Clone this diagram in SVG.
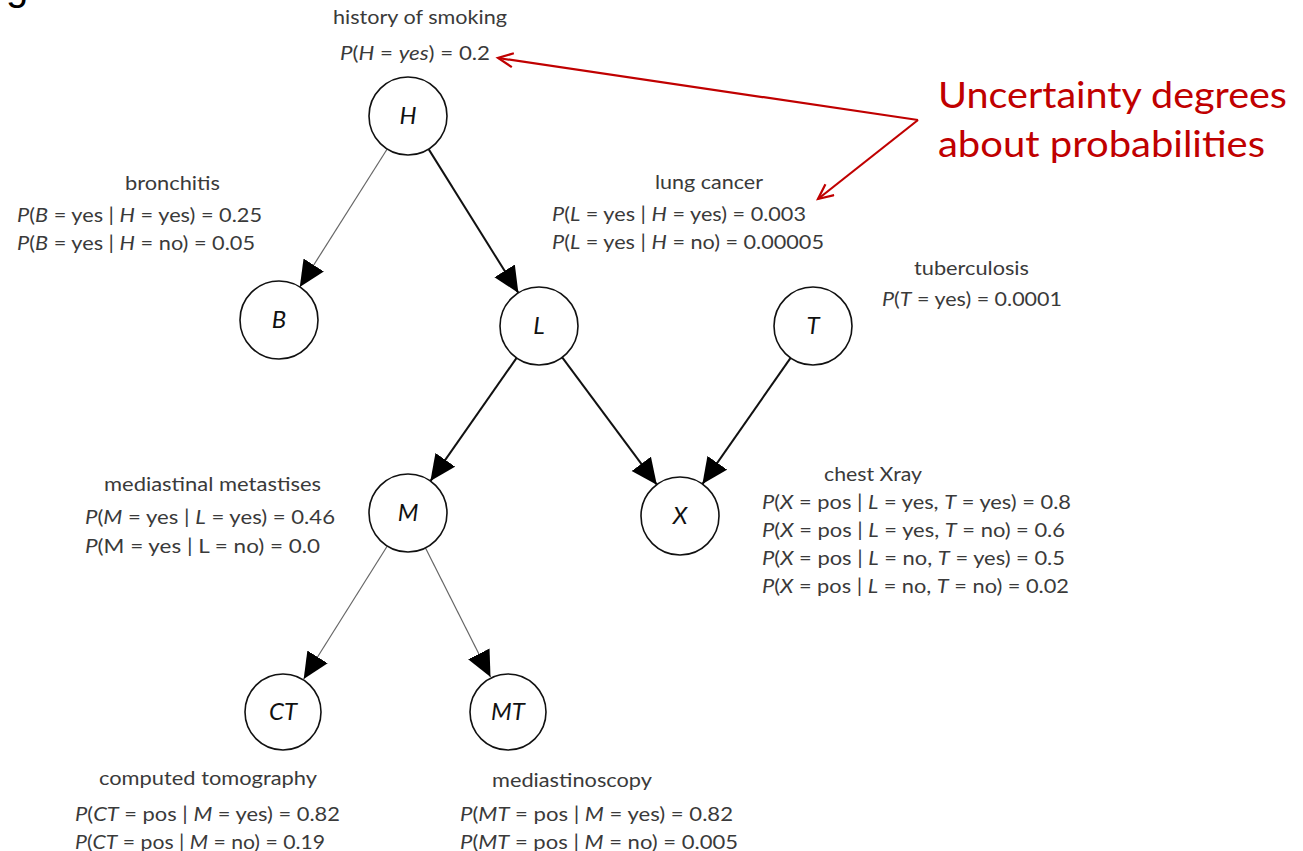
<svg xmlns="http://www.w3.org/2000/svg" width="1303" height="851" viewBox="0 0 1303 851">
<defs>
<style>
.lbl{font-family:Lato,"Liberation Sans",sans-serif;font-size:18.5px;fill:#3a3a3a}
.i{font-style:italic}
.node circle{fill:#fff;stroke:#111;stroke-width:1.6}
.node text{font-family:Lato,"Liberation Sans",sans-serif;font-size:24px;font-style:italic;fill:#111;text-anchor:middle}
.thin{stroke:#666;stroke-width:1.2;fill:none}
.thick{stroke:#111;stroke-width:2;fill:none}
.red{stroke:#c00000;stroke-width:2.2;fill:none}
.note{font-family:Lato,"Liberation Sans",sans-serif;font-size:37px;fill:#c00000}
</style>
<marker id="tri" markerUnits="userSpaceOnUse" markerWidth="27" markerHeight="25" refX="26" refY="12" orient="auto" viewBox="0 0 27 25">
<path d="M0,0 L26,12 L0,24 z" fill="#000"/>
</marker>
<marker id="open" markerUnits="userSpaceOnUse" markerWidth="20" markerHeight="20" refX="16" refY="8" orient="auto" viewBox="0 0 20 20">
<path d="M1,1 L16,8 L1,15" fill="none" stroke="#c00000" stroke-width="2.2"/>
</marker>
</defs>
<rect width="1303" height="851" fill="#fff"/>
<text x="6" y="0" style="font-family:'Liberation Sans',sans-serif;font-size:40px;fill:#000">g</text>

<g id="connectors">
<line class="thin" x1="387.2" y1="149" x2="299.8" y2="287" marker-end="url(#tri)"/>
<line class="thick" x1="428.6" y1="149.1" x2="518.4" y2="292.9" marker-end="url(#tri)"/>
<line class="thick" x1="516.6" y1="357.9" x2="430.4" y2="481.1" marker-end="url(#tri)"/>
<line class="thick" x1="562.2" y1="357.3" x2="656.8" y2="484.7" marker-end="url(#tri)"/>
<line class="thick" x1="790.6" y1="357.9" x2="702.4" y2="484.1" marker-end="url(#tri)"/>
<line class="thin" x1="387.3" y1="546" x2="303.7" y2="679" marker-end="url(#tri)"/>
<line class="thin" x1="425.5" y1="547.9" x2="490.5" y2="677.1" marker-end="url(#tri)"/>
<line class="red" x1="918" y1="120" x2="498" y2="58" marker-end="url(#open)"/>
<line class="red" x1="918" y1="120" x2="818" y2="199" marker-end="url(#open)"/>
</g>

<g id="node-H" class="node"><circle cx="408" cy="116" r="39"/><text x="408" y="124">H</text></g>
<g id="node-B" class="node"><circle cx="279" cy="320" r="39"/><text x="279" y="328">B</text></g>
<g id="node-L" class="node"><circle cx="539" cy="326" r="39"/><text x="539" y="334">L</text></g>
<g id="node-T" class="node"><circle cx="813" cy="326" r="39"/><text x="813" y="334">T</text></g>
<g id="node-M" class="node"><circle cx="408" cy="513" r="39"/><text x="408" y="521">M</text></g>
<g id="node-X" class="node"><circle cx="680" cy="516" r="39"/><text x="680" y="524">X</text></g>
<g id="node-CT" class="node"><circle cx="283" cy="712" r="38"/><text x="283" y="720">CT</text></g>
<g id="node-MT" class="node"><circle cx="508" cy="712" r="38"/><text x="508" y="720">MT</text></g>

<g id="label-H">
<text class="lbl" x="333" y="24" textLength="174" lengthAdjust="spacingAndGlyphs">history of smoking</text>
<text class="lbl" x="340" y="60" textLength="150" lengthAdjust="spacingAndGlyphs"><tspan class="i">P</tspan>(<tspan class="i">H</tspan> = <tspan class="i">yes</tspan>) = 0.2</text>
</g>
<g id="label-B">
<text class="lbl" x="125" y="190" textLength="95" lengthAdjust="spacingAndGlyphs">bronchitis</text>
<text class="lbl" x="17" y="222" textLength="245" lengthAdjust="spacingAndGlyphs"><tspan class="i">P</tspan>(<tspan class="i">B</tspan> = yes | <tspan class="i">H</tspan> = yes) = 0.25</text>
<text class="lbl" x="17" y="250" textLength="238" lengthAdjust="spacingAndGlyphs"><tspan class="i">P</tspan>(<tspan class="i">B</tspan> = yes | <tspan class="i">H</tspan> = no) = 0.05</text>
</g>
<g id="label-L">
<text class="lbl" x="655" y="189" textLength="108" lengthAdjust="spacingAndGlyphs">lung cancer</text>
<text class="lbl" x="552" y="221" textLength="254" lengthAdjust="spacingAndGlyphs"><tspan class="i">P</tspan>(<tspan class="i">L</tspan> = yes | <tspan class="i">H</tspan> = yes) = 0.003</text>
<text class="lbl" x="552" y="249" textLength="272" lengthAdjust="spacingAndGlyphs"><tspan class="i">P</tspan>(<tspan class="i">L</tspan> = yes | <tspan class="i">H</tspan> = no) = 0.00005</text>
</g>
<g id="label-T">
<text class="lbl" x="914" y="275" textLength="115" lengthAdjust="spacingAndGlyphs">tuberculosis</text>
<text class="lbl" x="882" y="306" textLength="180" lengthAdjust="spacingAndGlyphs"><tspan class="i">P</tspan>(<tspan class="i">T</tspan> = yes) = 0.0001</text>
</g>
<g id="label-M">
<text class="lbl" x="104" y="491" textLength="217" lengthAdjust="spacingAndGlyphs">mediastinal metastises</text>
<text class="lbl" x="85" y="524" textLength="250" lengthAdjust="spacingAndGlyphs"><tspan class="i">P</tspan>(<tspan class="i">M</tspan> = yes | <tspan class="i">L</tspan> = yes) = 0.46</text>
<text class="lbl" x="85" y="553" textLength="235" lengthAdjust="spacingAndGlyphs"><tspan class="i">P</tspan>(M  = yes | L = no) = 0.0</text>
</g>
<g id="label-X">
<text class="lbl" x="824" y="481" textLength="98" lengthAdjust="spacingAndGlyphs">chest Xray</text>
<text class="lbl" x="762" y="509" textLength="309" lengthAdjust="spacingAndGlyphs"><tspan class="i">P</tspan>(<tspan class="i">X</tspan> = pos | <tspan class="i">L</tspan> = yes, <tspan class="i">T</tspan> = yes) = 0.8</text>
<text class="lbl" x="762" y="537" textLength="303" lengthAdjust="spacingAndGlyphs"><tspan class="i">P</tspan>(<tspan class="i">X</tspan> = pos | <tspan class="i">L</tspan> = yes, <tspan class="i">T</tspan> = no) = 0.6</text>
<text class="lbl" x="762" y="565" textLength="303" lengthAdjust="spacingAndGlyphs"><tspan class="i">P</tspan>(<tspan class="i">X</tspan> = pos | <tspan class="i">L</tspan> = no, <tspan class="i">T</tspan> = yes) = 0.5</text>
<text class="lbl" x="762" y="593" textLength="307" lengthAdjust="spacingAndGlyphs"><tspan class="i">P</tspan>(<tspan class="i">X</tspan> = pos | <tspan class="i">L</tspan> = no, <tspan class="i">T</tspan> = no) = 0.02</text>
</g>
<g id="label-CT">
<text class="lbl" x="99" y="785" textLength="218" lengthAdjust="spacingAndGlyphs">computed tomography</text>
<text class="lbl" x="75" y="821" textLength="265" lengthAdjust="spacingAndGlyphs"><tspan class="i">P</tspan>(<tspan class="i">CT</tspan> = pos | <tspan class="i">M</tspan> = yes) = 0.82</text>
<text class="lbl" x="75" y="849" textLength="250" lengthAdjust="spacingAndGlyphs"><tspan class="i">P</tspan>(<tspan class="i">CT</tspan> = pos | <tspan class="i">M</tspan> = no) = 0.19</text>
</g>
<g id="label-MT">
<text class="lbl" x="492" y="787" textLength="160" lengthAdjust="spacingAndGlyphs">mediastinoscopy</text>
<text class="lbl" x="460" y="821" textLength="273" lengthAdjust="spacingAndGlyphs"><tspan class="i">P</tspan>(<tspan class="i">MT</tspan> = pos | <tspan class="i">M</tspan> = yes) = 0.82</text>
<text class="lbl" x="460" y="849" textLength="278" lengthAdjust="spacingAndGlyphs"><tspan class="i">P</tspan>(<tspan class="i">MT</tspan> = pos | <tspan class="i">M</tspan> = no) = 0.005</text>
</g>
<g id="note">
<text class="note" x="938" y="108" textLength="349" lengthAdjust="spacingAndGlyphs">Uncertainty degrees</text>
<text class="note" x="938" y="157" textLength="327" lengthAdjust="spacingAndGlyphs">about probabilities</text>
</g>
</svg>
